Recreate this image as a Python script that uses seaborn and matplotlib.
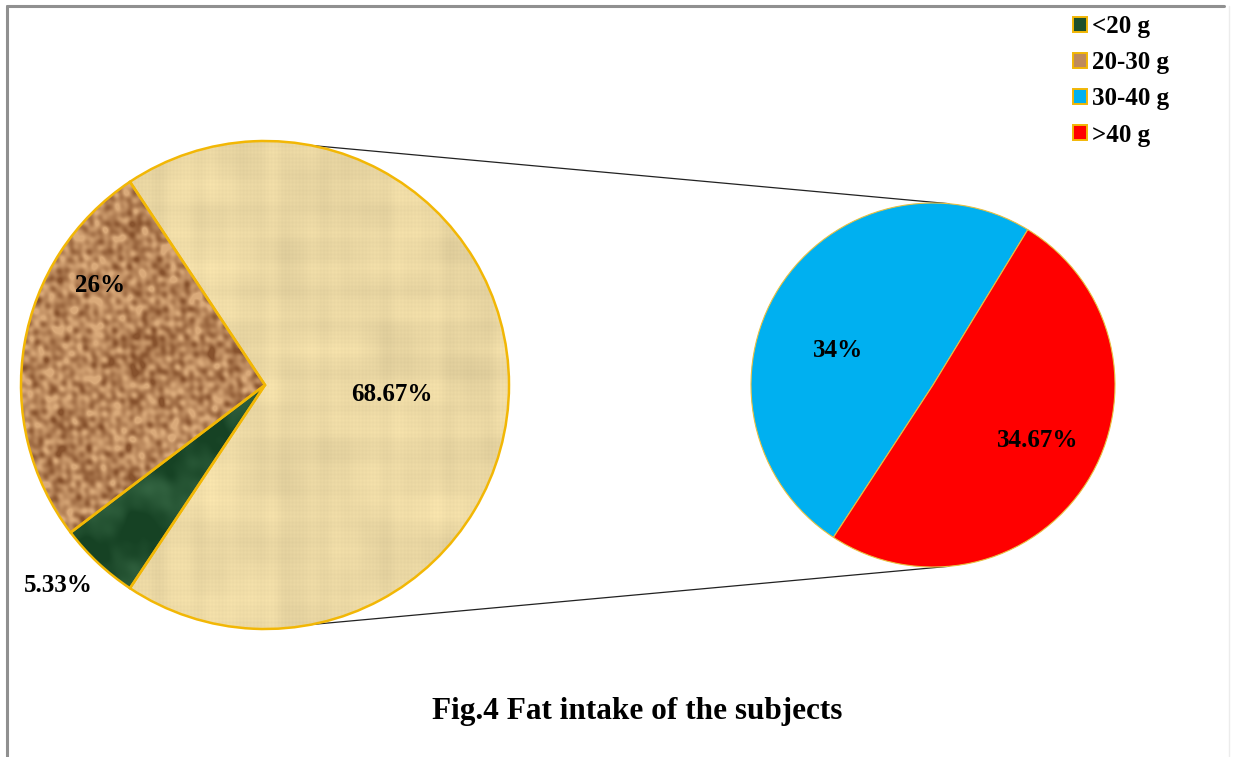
import numpy as np
import matplotlib
matplotlib.use("Agg")
import matplotlib.pyplot as plt
from matplotlib.patches import Patch
from matplotlib.lines import Line2D
import seaborn as sns

# Fat intake of the subjects (% of subjects in each daily intake group)
categories = ["<20 g", "20-30 g", "30-40 g", ">40 g"]
shares = [5.33, 26.0, 34.0, 34.67]
title_text = "Fig.4 Fat intake of the subjects"

sns.set_theme(style="white")
plt.rcParams["font.family"] = ["Liberation Serif", "DejaVu Serif"]
plt.rcParams["font.weight"] = "bold"
plt.rcParams["text.color"] = "black"

W, H = 1233, 757
fig = plt.figure(figsize=(W / 100, H / 100), dpi=100)
fig.patch.set_facecolor("white")
ax = fig.add_axes([0, 0, 1, 1])

EDGE = "#F2B705"
base_rgb = {
    "<20 g": (30, 80, 44),
    "20-30 g": (190, 138, 92),
    "30-40 g": (0, 176, 240),
    ">40 g": (255, 0, 0),
    "other": (234, 215, 163),
}


def hexcol(rgb):
    return "#%02x%02x%02x" % rgb


def waves(xx, yy, n, fmin, fmax, phase0):
    """Quasi-irregular field built from plane waves with golden-angle directions."""
    acc = np.zeros_like(xx)
    for i in range(n):
        th = i * 2.399963 + phase0
        f = fmin * (fmax / fmin) ** (i / max(n - 1, 1))
        ph = (i * 2.7183 + phase0 * 3.1) % (2 * np.pi)
        acc += np.sin(f * (xx * np.cos(th) + yy * np.sin(th)) + ph)
    return acc / np.sqrt(n / 2.0)


def texture(kind, size):
    yy, xx = np.mgrid[0:size, 0:size].astype(float)
    if kind == "other":
        # woven parchment: fine threads, thread bands and faint blotches
        base = np.array(base_rgb["other"], float) / 255
        blot = waves(xx, yy, 14, 0.03, 0.12, 0.7)
        threads = 0.5 * np.sin(2 * np.pi * xx / 3.5) + 0.5 * np.sin(2 * np.pi * yy / 4.0)
        bands_v = waves(xx, 0 * yy, 10, 0.05, 0.4, 1.1)
        bands_h = waves(0 * xx, yy, 10, 0.05, 0.4, 2.3)
        shade = 1 + 0.012 * blot + 0.015 * threads + 0.012 * bands_v + 0.010 * bands_h
        img = base[None, None, :] * shade[..., None]
    elif kind == "20-30 g":
        # cork grain
        n1 = waves(xx, yy, 28, 0.18, 0.8, 1.3)
        n2 = waves(xx, yy, 10, 0.03, 0.1, 2.1)
        light = np.array((218, 170, 122), float) / 255
        dark = np.array((135, 82, 45), float) / 255
        t = np.clip(0.58 + 0.22 * n1 + 0.08 * n2, 0, 1)
        img = dark[None, None, :] * (1 - t[..., None]) + light[None, None, :] * t[..., None]
    else:
        # dark green marble
        n1 = waves(xx, yy, 18, 0.02, 0.12, 0.4)
        n2 = waves(xx, yy, 16, 0.1, 0.4, 1.9)
        dark = np.array((22, 66, 36), float) / 255
        light = np.array((70, 122, 84), float) / 255
        t = np.clip(0.25 + 0.16 * n1 + 0.06 * n2, 0, 1)
        img = dark[None, None, :] * (1 - t[..., None]) + light[None, None, :] * t[..., None]
    return np.clip(img, 0, 1)


# ---- main pie: the two smaller groups plus the combined remainder ----
low, mid, hi1, hi2 = shares
other = round(hi1 + hi2, 2)
main_vals = [other, mid, low]
main_keys = ["other", "20-30 g", "<20 g"]
main_c = (265.0, 372.0)
main_r = 244.0
main_start = -other / 100.0 * 360.0 / 2.0

fill_wedges, _ = ax.pie(
    main_vals, center=main_c, radius=main_r, startangle=main_start,
    counterclock=True, colors=[hexcol(base_rgb[k]) for k in main_keys],
    wedgeprops=dict(linewidth=0), frame=True,
)

size = int(2 * main_r) + 2
extent = [main_c[0] - main_r - 1, main_c[0] + main_r + 1,
          main_c[1] - main_r - 1, main_c[1] + main_r + 1]
for wedge, key in zip(fill_wedges, main_keys):
    im = ax.imshow(texture(key, size), extent=extent, origin="lower",
                   interpolation="bilinear", zorder=2)
    im.set_clip_path(wedge)

ax.pie(
    main_vals, center=main_c, radius=main_r, startangle=main_start,
    counterclock=True, colors=["none"] * 3, frame=True,
    wedgeprops=dict(linewidth=1.8, edgecolor=EDGE, facecolor="none", zorder=3),
)

# ---- secondary pie: breakdown of the combined remainder ----
sub_vals = [hi1, hi2]
sub_c = (933.0, 372.0)
sub_r = 182.0
sub_start = 58.6
ax.pie(
    sub_vals, center=sub_c, radius=sub_r, startangle=sub_start,
    counterclock=True, colors=[hexcol(base_rgb["30-40 g"]), hexcol(base_rgb[">40 g"])],
    wedgeprops=dict(linewidth=0.8, edgecolor="#E8C040", zorder=3), frame=True,
)
ax.set_xlim(0, W)
ax.set_ylim(0, H)
ax.set_aspect("equal")
ax.axis("off")

# connector lines between the two pies
for sgn in (1, -1):
    a_main = np.deg2rad(sgn * 79)
    a_sub = np.deg2rad(sgn * 85)
    p0 = (main_c[0] + main_r * np.cos(a_main), main_c[1] + main_r * np.sin(a_main))
    p1 = (sub_c[0] + sub_r * np.cos(a_sub), sub_c[1] + sub_r * np.sin(a_sub))
    ax.add_line(Line2D([p0[0], p1[0]], [p0[1], p1[1]], color="#222222",
                       linewidth=0.9, zorder=1))


# ---- value labels ----
def pct(v):
    return f"{v:g}%"


def polar(c, r, ang_deg, frac):
    a = np.deg2rad(ang_deg)
    return c[0] + frac * r * np.cos(a), c[1] + frac * r * np.sin(a)


label_fs = 18
for val, ang, frac in [(other, -4.5, 0.52), (mid, 148.8, 0.79), (low, 224.0, 1.18)]:
    x, y = polar(main_c, main_r, ang, frac)
    ax.text(x, y, pct(val), ha="center", va="center", fontsize=label_fs,
            fontweight="bold", color="black", zorder=5)
for val, ang, frac in [(hi1, 159.8, 0.555), (hi2, -27.9, 0.65)]:
    x, y = polar(sub_c, sub_r, ang, frac)
    ax.text(x, y, pct(val), ha="center", va="center", fontsize=label_fs,
            fontweight="bold", color="black", zorder=5)

# ---- legend ----
legend_face = [hexcol(base_rgb[c]) for c in categories]
handles = [Patch(facecolor=fc, edgecolor=EDGE, linewidth=1.4, label=c)
           for fc, c in zip(legend_face, categories)]
leg = fig.legend(handles=handles, loc="upper left", bbox_to_anchor=(1063 / W, 1 - 5 / H),
                 frameon=False, handlelength=0.55, handleheight=0.55,
                 handletextpad=0.2, labelspacing=0.53, borderaxespad=0.0,
                 prop=dict(family="Liberation Serif", weight="bold", size=18))
for t in leg.get_texts():
    t.set_color("black")

# ---- title ----
fig.text(637 / W, 1 - 712 / H, title_text, ha="center", va="center",
         fontsize=22.5, fontweight="bold", color="black")

# ---- outer frame ----
fig.add_artist(Line2D([6.5 / W, 6.5 / W], [0, 1 - 6 / H], transform=fig.transFigure,
                      color="#909090", linewidth=2.2))
fig.add_artist(Line2D([6.5 / W, 1224 / W], [1 - 6 / H, 1 - 6 / H], transform=fig.transFigure,
                      color="#909090", linewidth=2.2))
fig.add_artist(Line2D([1229 / W, 1229 / W], [0, 1 - 6 / H], transform=fig.transFigure,
                      color="#ececec", linewidth=1.0))

fig.savefig("out.png", dpi=100, facecolor="white")
